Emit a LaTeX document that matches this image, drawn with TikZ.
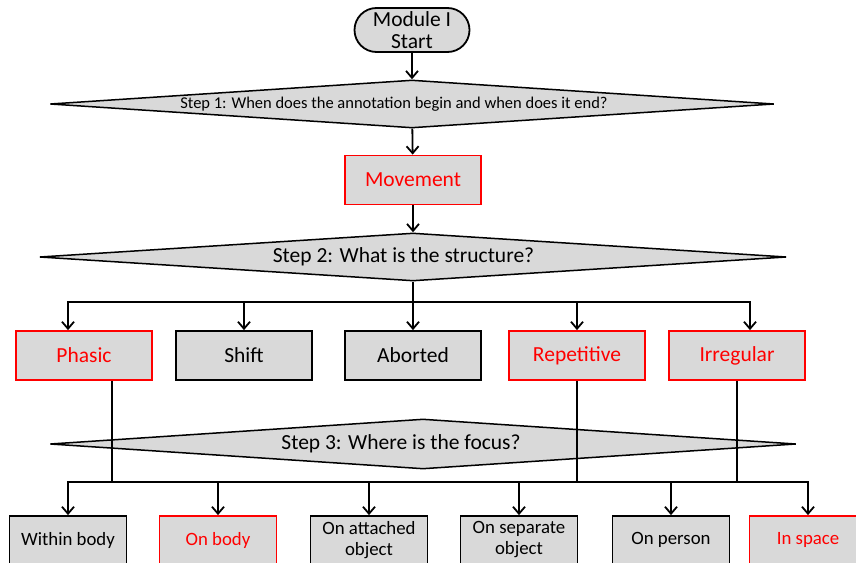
\documentclass[tikz,border=0pt]{standalone}
\usepackage{fontspec}
\setmainfont{Carlito}
\usepackage{tikz}
\usetikzlibrary{shapes.geometric,arrows.meta}
\definecolor{boxgray}{HTML}{D9D9D9}

\begin{document}
\begin{tikzpicture}[x=1pt, y=-1pt, line width=1.8pt, >={Straight Barb[length=7pt,width=12pt]},
    box/.style={draw, rectangle, fill=boxgray, minimum width=136pt, minimum height=49pt, inner sep=1pt, align=center, font=\fontsize{21.5}{24}\selectfont},
    redbox/.style={box, draw=red, text=red},
    smallbox/.style={box, minimum width=117pt, minimum height=48pt, font=\fontsize{18.8}{21}\selectfont},
    smallredbox/.style={smallbox, draw=red, text=red},
    decision/.style={draw, diamond, fill=boxgray, shape aspect=15, inner sep=0pt, line width=1.5pt, font=\fontsize{21.5}{24}\selectfont},
    startbox/.style={draw, rectangle, rounded corners=22pt, fill=boxgray, minimum width=115pt, minimum height=44pt, inner sep=1pt, align=center, font=\fontsize{21.5}{22}\selectfont}]
    \useasboundingbox (0,0) rectangle (856,562);

    % Define the boxes
    \node[startbox] (start) at (412,30) {Module I\\Start};
    \node[decision, minimum width=724pt, minimum height=48pt, font=\fontsize{16.5}{18}\selectfont] (step1) at (412,104) {Step 1: When does the annotation begin and when does it end?\hspace*{36pt}};
    \node[redbox] (movement) at (413,180) {Movement};
    \node[decision, minimum width=747pt, minimum height=48pt] (step2) at (413,257) {Step 2: What is the structure?\hspace*{19pt}};

    \node[redbox] (phasic) at (84,355.5) {Phasic};
    \node[box] (shift) at (244,355.5) {Shift};
    \node[box] (aborted) at (413,355.5) {Aborted};
    \node[redbox] (repetitive) at (577,355.5) {Repetitive};
    \node[redbox] (irregular) at (737,355.5) {Irregular};

    \node[decision, minimum width=746pt, minimum height=50pt] (step3) at (423,444) {Step 3: Where is the focus?\hspace*{44pt}};

    \node[smallbox] (within) at (68,540) {Within body};
    \node[smallredbox] (onbody) at (218,540) {On body};
    \node[smallbox] (attached) at (369,540) {On attached\\object};
    \node[smallbox] (separate) at (519,540) {On separate\\object};
    \node[smallbox] (person) at (671,540) {On person};
    \node[smallredbox] (space) at (808,540) {In space};

    \coordinate (split1) at (413,302);
    \coordinate (split2) at (423,482);

    % Draw arrows between the boxes
    \draw[->] (start) -- (step1);
    \draw[->] (step1) -- (movement);
    \draw[->] (movement) -- (step2);
    \draw (step2) -- (split1);
    \draw[->] (split1) -| ([xshift=-16pt]phasic.north);
    \draw[->] (split1) -| (shift.north);
    \draw[->] (split1) -| (aborted.north);
    \draw[->] (split1) -| (repetitive.north);
    \draw[->] (split1) -| ([xshift=13pt]irregular.north);

    \draw ([xshift=28pt]phasic.south) |- (split2);
    \draw (repetitive.south) |- (split2);
    \draw (irregular.south) |- (split2);
    \draw[->] (split2) -| (within.north);
    \draw[->] (split2) -| (onbody.north);
    \draw[->] (split2) -| (attached.north);
    \draw[->] (split2) -| (separate.north);
    \draw[->] (split2) -| (person.north);
    \draw[->] (split2) -| (space.north);
\end{tikzpicture}
\end{document}
